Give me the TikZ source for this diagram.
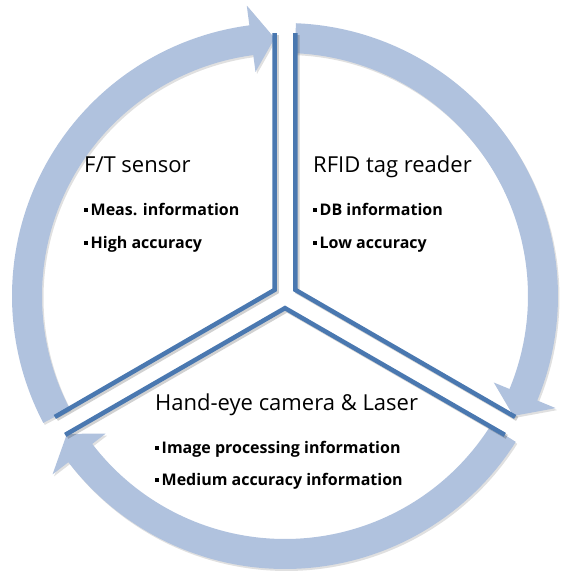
\documentclass[tikz,border=0pt]{standalone}
\usepackage{fontspec}
\setmainfont{Open Sans}
\usetikzlibrary{calc,positioning}

\definecolor{bandblue}{RGB}{176,194,222}
\definecolor{lineblue}{RGB}{74,120,176}

\newcommand{\bul}{\rule[0.2em]{0.24em}{0.24em}\,}

\begin{document}
\begin{tikzpicture}[
  x=1pt, y=1pt,
  band/.style={fill=bandblue,
    preaction={fill=black, opacity=0.12, transform canvas={shift={(1.5pt,-2pt)}}}},
  wedgeline/.style={draw=lineblue, line width=4.5pt, line join=miter, line cap=butt,
    preaction={draw=black, opacity=0.18, line width=4.5pt,
      transform canvas={shift={(2pt,-2pt)}}}},
  title/.style={anchor=base west, inner sep=0pt,
    font=\fontsize{22}{26}\selectfont},
  item/.style={anchor=base west, inner sep=0pt,
    font=\bfseries\fontsize{16}{19}\selectfont}
]
  \useasboundingbox (-285,-280) rectangle (275,296);
  \coordinate (c) at (0,0);

  % === Cycle arrows ===
  % left: lower-left up to top
  \fill[band] (207.7:273pt) arc[start angle=207.7, end angle=97.5, radius=273pt]
    -- (97.5:293pt) -- (92.3:258pt) -- (97.5:226pt) -- (97.5:243pt)
    arc[start angle=97.5, end angle=207.7, radius=243pt] -- cycle;
  % right: top down to lower-right
  \fill[band] (87.7:273pt) arc[start angle=87.7, end angle=-22.5, radius=273pt]
    -- (-22.5:293pt) -- (-27.7:258pt) -- (-22.5:226pt) -- (-22.5:243pt)
    arc[start angle=-22.5, end angle=87.7, radius=243pt] -- cycle;
  % bottom: lower-right round to lower-left
  \fill[band] (327.7:273pt) arc[start angle=327.7, end angle=217.5, radius=273pt]
    -- (217.5:293pt) -- (212.3:258pt) -- (217.5:226pt) -- (217.5:243pt)
    arc[start angle=217.5, end angle=327.7, radius=243pt] -- cycle;

  % === Wedge edges ===
  \draw[wedgeline] (92.28:263pt) -- (150:12.12pt) -- (207.72:260pt);
  \draw[wedgeline] (87.72:263pt) -- (30:12.12pt) -- (-27.72:260pt);
  \draw[wedgeline] (327.72:260pt) -- (270:12.12pt) -- (212.28:260pt);

  % === F/T sensor ===
  \node[title] (ft-title) at (-201,124) {F/T sensor};
  \node[item] (ft-meas) at (-201,81) {\bul Meas. information};
  \node[item] (ft-acc) at (-201,48) {\bul High accuracy};

  % === RFID tag reader ===
  \node[title] (rfid-title) at (28,124) {RFID tag reader};
  \node[item] (rfid-db) at (28,81) {\bul DB information};
  \node[item] (rfid-acc) at (28,48) {\bul Low accuracy};

  % === Hand-eye camera ===
  \node[title] (cam-title) at (-130,-114) {Hand-eye camera \& Laser};
  \node[item] (cam-img) at (-130,-157) {\bul Image processing information};
  \node[item] (cam-acc) at (-130,-189) {\bul Medium accuracy information};
\end{tikzpicture}
\end{document}
